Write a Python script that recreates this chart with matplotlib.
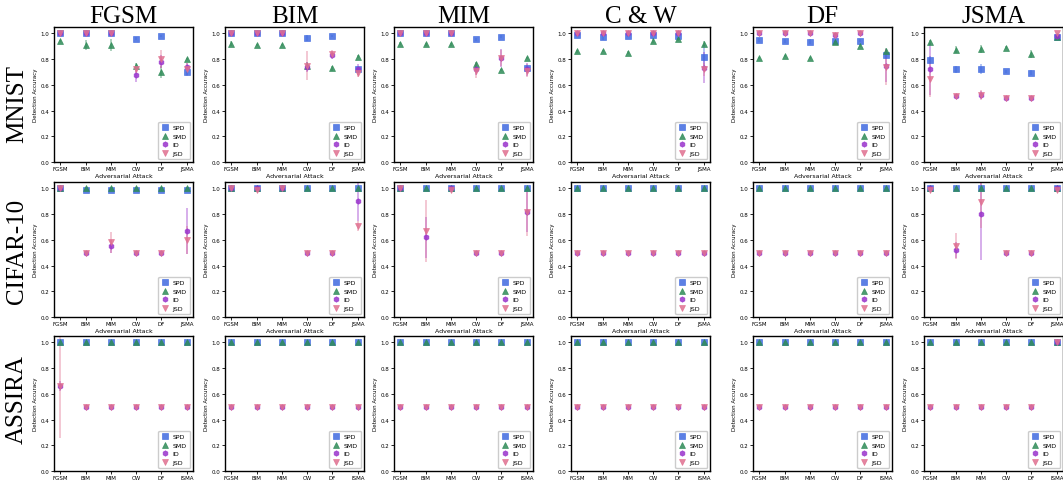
import numpy as np
import matplotlib
matplotlib.use("Agg")
import matplotlib.pyplot as plt

attacks = ["FGSM", "BIM", "MIM", "CW", "DF", "JSMA"]
col_titles = ["FGSM", "BIM", "MIM", "C & W", "DF", "JSMA"]
datasets = ["MNIST", "CIFAR-10", "ASSIRA"]
detectors = ["SPD", "SMD", "ID", "JSD"]

# one row per training attack (panel), one value per test attack
mnist_spd = [[1.0, 1.0, 1.0, 0.96, 0.98, 0.70],
             [1.0, 1.0, 1.0, 0.965, 0.98, 0.72],
             [1.0, 1.0, 1.0, 0.955, 0.975, 0.73],
             [0.99, 0.97, 0.98, 0.99, 0.98, 0.82],
             [0.95, 0.94, 0.935, 0.94, 0.945, 0.835],
             [0.795, 0.72, 0.725, 0.705, 0.695, 0.97]]
mnist_spd_err = [[0, 0, 0, 0.01, 0.01, 0.02],
                 [0, 0, 0, 0.02, 0.01, 0.02],
                 [0, 0, 0, 0.01, 0.01, 0.02],
                 [0.01, 0.02, 0.01, 0.01, 0.01, 0.09],
                 [0.015, 0.015, 0.02, 0.01, 0.01, 0.03],
                 [0.03, 0.03, 0.04, 0.01, 0.02, 0.01]]
mnist_smd = [[0.94, 0.91, 0.91, 0.75, 0.70, 0.80],
             [0.92, 0.91, 0.91, 0.75, 0.73, 0.82],
             [0.92, 0.915, 0.915, 0.76, 0.715, 0.81],
             [0.86, 0.865, 0.85, 0.945, 0.955, 0.92],
             [0.81, 0.825, 0.81, 0.935, 0.905, 0.865],
             [0.93, 0.875, 0.88, 0.89, 0.84, 0.97]]
mnist_smd_err = [[0.01, 0.04, 0.05, 0.02, 0.05, 0.01],
                 [0.02, 0.01, 0.01, 0.03, 0.02, 0.01],
                 [0.01, 0.01, 0.01, 0.02, 0.01, 0.01],
                 [0.01, 0.01, 0.01, 0.02, 0.01, 0.02],
                 [0.01, 0.01, 0.01, 0.01, 0.01, 0.02],
                 [0.02, 0.03, 0.03, 0.01, 0.03, 0.01]]
mnist_id = [[1.0, 1.0, 1.0, 0.68, 0.78, 0.74],
            [1.0, 1.0, 1.0, 0.74, 0.83, 0.72],
            [1.0, 1.0, 1.0, 0.72, 0.81, 0.72],
            [1.0, 1.0, 1.0, 1.0, 1.0, 0.735],
            [1.0, 1.0, 1.0, 0.99, 1.0, 0.75],
            [0.725, 0.51, 0.52, 0.50, 0.50, 0.98]]
mnist_id_err = [[0, 0, 0, 0.06, 0.05, 0.03],
                [0, 0, 0, 0.04, 0.03, 0.04],
                [0, 0, 0, 0.04, 0.07, 0.05],
                [0, 0, 0, 0, 0, 0.12],
                [0, 0, 0, 0.01, 0, 0.13],
                [0.2, 0.01, 0.03, 0, 0, 0.01]]
mnist_jsd = [[1.0, 1.0, 1.0, 0.72, 0.80, 0.72],
             [1.0, 1.0, 1.0, 0.75, 0.84, 0.69],
             [1.0, 1.0, 1.0, 0.71, 0.81, 0.71],
             [1.0, 1.0, 1.0, 1.0, 1.0, 0.72],
             [1.0, 1.0, 1.0, 0.99, 1.0, 0.74],
             [0.645, 0.51, 0.52, 0.50, 0.50, 1.0]]
mnist_jsd_err = [[0, 0, 0, 0.03, 0.07, 0.05],
                 [0, 0, 0, 0.11, 0.03, 0.03],
                 [0, 0, 0, 0.06, 0.06, 0.05],
                 [0, 0, 0, 0, 0, 0.05],
                 [0, 0, 0, 0.01, 0, 0.14],
                 [0.14, 0.01, 0.04, 0, 0, 0]]

cifar_spd = [[1.0, 0.99, 0.99, 0.99, 0.99, 0.99],
             [1.0, 1.0, 1.0, 1.0, 1.0, 1.0],
             [1.0, 1.0, 1.0, 1.0, 1.0, 1.0],
             [1.0, 1.0, 1.0, 1.0, 1.0, 1.0],
             [1.0, 1.0, 1.0, 1.0, 1.0, 1.0],
             [1.0, 1.0, 1.0, 1.0, 1.0, 1.0]]
cifar_smd = [[1.0, 1.0, 1.0, 1.0, 1.0, 1.0],
             [1.0, 1.0, 1.0, 1.0, 1.0, 1.0],
             [1.0, 1.0, 1.0, 1.0, 1.0, 1.0],
             [1.0, 1.0, 1.0, 1.0, 1.0, 1.0],
             [1.0, 1.0, 1.0, 1.0, 1.0, 1.0],
             [1.0, 1.0, 1.0, 1.0, 1.0, 1.0]]
cifar_id = [[1.0, 0.5, 0.55, 0.5, 0.5, 0.67],
            [1.0, 1.0, 1.0, 0.5, 0.5, 0.90],
            [1.0, 0.62, 1.0, 0.5, 0.5, 0.82],
            [0.5, 0.5, 0.5, 0.5, 0.5, 0.5],
            [0.5, 0.5, 0.5, 0.5, 0.5, 0.5],
            [1.0, 0.52, 0.80, 0.5, 0.5, 1.0]]
cifar_id_err = [[0, 0, 0.05, 0, 0, 0.18],
                [0, 0, 0, 0, 0, 0.15],
                [0, 0.16, 0, 0, 0, 0.16],
                [0, 0, 0, 0, 0, 0],
                [0, 0, 0, 0, 0, 0],
                [0, 0.06, 0.36, 0, 0, 0]]
cifar_jsd = [[1.0, 0.5, 0.58, 0.5, 0.5, 0.60],
             [1.0, 0.99, 1.0, 0.5, 0.5, 0.71],
             [1.0, 0.67, 0.99, 0.5, 0.5, 0.82],
             [0.5, 0.5, 0.5, 0.5, 0.5, 0.5],
             [0.5, 0.5, 0.5, 0.5, 0.5, 0.5],
             [0.99, 0.555, 0.895, 0.5, 0.5, 0.99]]
cifar_jsd_err = [[0, 0, 0.08, 0, 0, 0.11],
                 [0, 0, 0, 0, 0, 0.04],
                 [0, 0.24, 0, 0, 0, 0.19],
                 [0, 0, 0, 0, 0, 0],
                 [0, 0, 0, 0, 0, 0],
                 [0, 0.1, 0.2, 0, 0, 0]]

assira_spd = [[1.0] * 6 for _ in range(6)]
assira_smd = [[1.0] * 6 for _ in range(6)]
assira_id = [[0.66, 0.5, 0.5, 0.5, 0.5, 0.5],
             [0.5, 0.5, 0.5, 0.5, 0.5, 0.5],
             [0.5, 0.5, 0.5, 0.5, 0.5, 0.5],
             [0.5, 0.5, 0.5, 0.5, 0.5, 0.5],
             [0.5, 0.5, 0.5, 0.5, 0.5, 0.5],
             [0.5, 0.5, 0.5, 0.5, 0.5, 1.0]]
assira_id_err = [[0.04, 0, 0, 0, 0, 0]] + [[0] * 6 for _ in range(5)]
assira_jsd = [[0.66, 0.5, 0.5, 0.5, 0.5, 0.5],
              [0.5, 0.5, 0.5, 0.5, 0.5, 0.5],
              [0.5, 0.5, 0.5, 0.5, 0.5, 0.5],
              [0.5, 0.5, 0.5, 0.5, 0.5, 0.5],
              [0.5, 0.5, 0.5, 0.5, 0.5, 0.5],
              [0.5, 0.5, 0.5, 0.5, 0.5, 1.0]]
assira_jsd_err = [[0.40, 0, 0, 0, 0, 0]] + [[0] * 6 for _ in range(5)]

zeros = [[0] * 6 for _ in range(6)]

rows = [
    [(mnist_spd, mnist_spd_err), (mnist_smd, mnist_smd_err), (mnist_id, mnist_id_err), (mnist_jsd, mnist_jsd_err)],
    [(cifar_spd, zeros), (cifar_smd, zeros), (cifar_id, cifar_id_err), (cifar_jsd, cifar_jsd_err)],
    [(assira_spd, zeros), (assira_smd, zeros), (assira_id, assira_id_err), (assira_jsd, assira_jsd_err)],
]

colors = ["#3f6ae0", "#2e8b57", "#9932cc", "#e07090"]
markers = ["s", "^", "h", "v"]

W, H = 1063, 481
fig = plt.figure(figsize=(W / 100, H / 100), dpi=100)

col_left = [54, 225, 394, 571, 753, 924]
row_top = [28, 183, 337]
aw, ah = 139, 135
row_lab_y = [104, 251, 400]

x = np.arange(len(attacks))
for r in range(3):
    for c in range(6):
        ax = fig.add_axes([col_left[c] / W, 1 - (row_top[r] + ah) / H, aw / W, ah / H])
        for d in range(4):
            mean, err = rows[r][d]
            ax.errorbar(x, mean[c], yerr=err[c], fmt="none", ecolor=colors[d],
                        elinewidth=1.1, alpha=0.5, zorder=2)
            ax.plot(x, mean[c], markers[d], color=colors[d], ms=3.9, alpha=0.85,
                    mec=colors[d], mew=0.5, label=detectors[d], zorder=3)
        ax.set_xlim(-0.25, 5.25)
        ax.set_ylim(0, 1.05)
        ax.set_xticks(x)
        ax.set_xticklabels(attacks)
        ax.set_yticks(np.arange(0, 1.01, 0.2))
        ax.tick_params(labelsize=4, length=2, width=0.6, pad=1.2)
        ax.set_ylabel("Detection Accuracy", fontsize=4, labelpad=2)
        if r < 2:
            # the bottom row's axis label falls off the picture in the original
            ax.set_xlabel("Adversarial Attack", fontsize=4.5, labelpad=1)
        for s in ax.spines.values():
            s.set_linewidth(1.0)
        ax.legend(loc="lower right", fontsize=4.5, markerscale=1.0, handletextpad=0.6,
                  borderpad=0.5, labelspacing=0.5, handlelength=1.2, framealpha=1)
        if r == 0:
            ax.set_title(col_titles[c], fontsize=18, family="Liberation Serif", pad=2)
    fig.text(17 / W, 1 - row_lab_y[r] / H, datasets[r], rotation=90, fontsize=18,
             family="Liberation Serif", ha="center", va="center")

fig.savefig("out.png", dpi=100)
